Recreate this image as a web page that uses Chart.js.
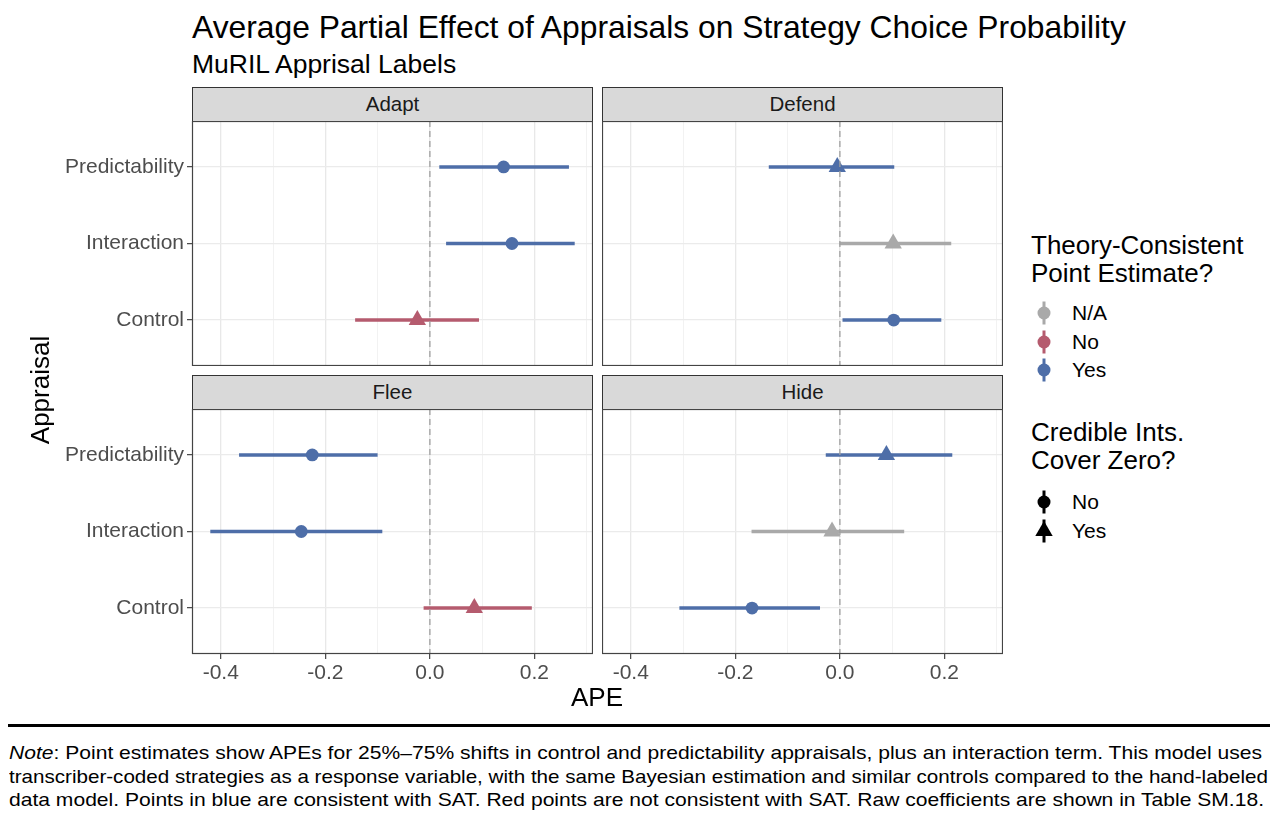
<!DOCTYPE html>
<html>
<head>
<meta charset="utf-8">
<script src="https://cdn.jsdelivr.net/npm/chart.js@4"></script>
<style>
  body { margin: 0; background: #fff; font-family: "Liberation Sans", Arial, Helvetica, sans-serif; }
  #page { position: relative; width: 1275px; height: 818px; overflow: hidden; }
  .abs { position: absolute; }
  .strip { position: absolute; background: #d9d9d9; border: 1px solid #333; box-sizing: border-box;
           font-size: 20.5px; color: #1a1a1a; text-align: center; line-height: 32px; }
  .panel { position: absolute; }
  .lg-title { position: absolute; left: 1031px; font-size: 26px; color: #000; line-height: 28px; }
  .lg-item { position: absolute; left: 1030px; height: 28px; display: flex; align-items: center; font-size: 21px; }
  .lg-item svg { width: 28px; height: 28px; margin-right: 14px; }
  .note { position: absolute; left: 9px; font-size: 18.5px; line-height: 23.5px; white-space: nowrap; transform-origin: 0 0; }
</style>
</head>
<body>
<div id="page">
  <div class="abs" style="left:192px; top:10px; font-size:31.8px; line-height:34px;">Average Partial Effect of Appraisals on Strategy Choice Probability</div>
  <div class="abs" style="left:192px; top:49px; font-size:26.5px; line-height:30px;">MuRIL Apprisal Labels</div>

  <div class="strip" style="left:192px; top:87px; width:401px; height:35px;">Adapt</div>
  <div class="strip" style="left:602px; top:87px; width:401px; height:35px;">Defend</div>
  <div class="strip" style="left:192px; top:375px; width:401px; height:35px;">Flee</div>
  <div class="strip" style="left:602px; top:375px; width:401px; height:35px;">Hide</div>

  <div class="panel" style="left:0px; top:121px; width:593px; height:245px;"><canvas id="c0"></canvas></div>
  <div class="panel" style="left:602px; top:121px; width:401px; height:245px;"><canvas id="c1"></canvas></div>
  <div class="panel" style="left:0px; top:409px; width:593px; height:280px;"><canvas id="c2"></canvas></div>
  <div class="panel" style="left:602px; top:409px; width:401px; height:280px;"><canvas id="c3"></canvas></div>

  <div class="abs" style="left:-20px; top:375px; width:120px; text-align:center; font-size:26px; line-height:30px; transform:rotate(-90deg);">Appraisal</div>
  <div class="abs" style="left:547px; top:682px; width:100px; text-align:center; font-size:26px; line-height:30px;">APE</div>

  <div class="lg-title" style="top:231px;">Theory-Consistent<br>Point Estimate?</div>
  <div id="legend1"></div>
  <div class="lg-title" style="top:418px;">Credible Ints.<br>Cover Zero?</div>
  <div id="legend2"></div>

  <div class="abs" style="left:8px; top:724px; width:1262px; height:2.5px; background:#000;"></div>
  <div class="note" data-w="1253" style="top:741px;"><i>Note</i>: Point estimates show APEs for 25%&ndash;75% shifts in control and predictability appraisals, plus an interaction term. This model uses</div>
  <div class="note" data-w="1259" style="top:764.5px;">transcriber-coded strategies as a response variable, with the same Bayesian estimation and similar controls compared to the hand-labeled</div>
  <div class="note" data-w="1255" style="top:788px;">data model. Points in blue are consistent with SAT. Red points are not consistent with SAT. Raw coefficients are shown in Table SM.18.</div>
</div>

<script>
// data
const facets = ["Adapt", "Defend", "Flee", "Hide"];
const appraisals = ["Predictability", "Interaction", "Control"];

const adaptEst = [0.141, 0.157, -0.024];
const adaptLow = [0.018, 0.031, -0.143];
const adaptHigh = [0.266, 0.277, 0.094];
const adaptConsistent = ["Yes", "Yes", "No"];
const adaptCover = ["No", "No", "Yes"];

const defendEst = [-0.005, 0.102, 0.103];
const defendLow = [-0.136, -0.001, 0.005];
const defendHigh = [0.104, 0.213, 0.194];
const defendConsistent = ["Yes", "N/A", "Yes"];
const defendCover = ["Yes", "Yes", "No"];

const fleeEst = [-0.225, -0.246, 0.085];
const fleeLow = [-0.365, -0.42, -0.012];
const fleeHigh = [-0.1, -0.091, 0.195];
const fleeConsistent = ["Yes", "Yes", "No"];
const fleeCover = ["No", "No", "Yes"];

const hideEst = [0.089, -0.015, -0.168];
const hideLow = [-0.027, -0.169, -0.307];
const hideHigh = [0.215, 0.123, -0.038];
const hideConsistent = ["Yes", "N/A", "Yes"];
const hideCover = ["Yes", "Yes", "No"];

const xTickVals = [-0.4, -0.3, -0.2, -0.1, 0, 0.1, 0.2, 0.3];
const xTickLabels = ["-0.4", "", "-0.2", "", "0.0", "", "0.2", ""];

const consistentLevels = ["N/A", "No", "Yes"];
const coverLevels = ["No", "Yes"];

const colors = { "N/A": "#a9a9a9", "No": "#b55b6e", "Yes": "#4e6ea8" };
const FONT = "'Liberation Sans', Arial, Helvetica, sans-serif";

// y position of a category (ggplot puts the first level at the bottom)
const rowOf = (i) => appraisals.length - i;

const panelPlugin = {
  id: "panel",
  afterDatasetsDraw(chart) {
    const { ctx, chartArea: a, scales: { x } } = chart;
    const px = x.getPixelForValue(0);
    ctx.save();
    ctx.strokeStyle = "#a0a0a0";
    ctx.lineWidth = 1.3;
    ctx.setLineDash([6, 4]);
    ctx.beginPath();
    ctx.moveTo(px, a.top);
    ctx.lineTo(px, a.bottom);
    ctx.stroke();
    ctx.restore();
  },
  afterDraw(chart) {
    const { ctx, chartArea: a } = chart;
    ctx.save();
    ctx.strokeStyle = "#444";
    ctx.lineWidth = 1.2;
    ctx.strokeRect(a.left + 0.5, a.top + 0.5, a.right - a.left - 1, a.bottom - a.top - 1);
    ctx.restore();
  },
};

const makePanel = (id, est, low, high, consistent, cover, showY, showX) => {
  const datasets = [];
  datasets.push({
    data: est.map((v, i) => ({ x: v, y: rowOf(i) })),
    pointStyle: cover.map((c) => (c === "Yes" ? "triangle" : "circle")),
    pointRadius: cover.map((c) => (c === "Yes" ? 10 : 6.4)),
    backgroundColor: consistent.map((c) => colors[c]),
    borderWidth: 0,
    order: 1,
  });
  est.forEach((v, i) => {
    datasets.push({
      data: [
        { x: low[i], y: rowOf(i) },
        { x: high[i], y: rowOf(i) },
      ],
      showLine: true,
      borderColor: colors[consistent[i]],
      borderWidth: 3.4,
      pointRadius: 0,
      order: 2,
    });
  });

  new Chart(document.getElementById(id), {
    type: "scatter",
    data: { datasets: datasets },
    options: {
      responsive: true,
      maintainAspectRatio: false,
      animation: false,
      layout: { padding: 0, autoPadding: false },
      plugins: { legend: { display: false }, tooltip: { enabled: false } },
      scales: {
        x: {
          type: "linear",
          min: -0.455,
          max: 0.312,
          afterBuildTicks: (axis) => {
            axis.ticks = xTickVals.map((v) => ({ value: v }));
          },
          afterFit: (axis) => {
            axis.height = showX ? 35 : 0;
            axis.paddingLeft = 0;
            axis.paddingRight = 0;
          },
          border: { display: false },
          grid: {
            color: (ctx) => (ctx.index % 2 === 0 ? "#e8e8e8" : "#f0f0f0"),
            lineWidth: (ctx) => (ctx.index % 2 === 0 ? 1.3 : 0.9),
            drawTicks: showX,
            tickLength: 5,
            tickColor: (ctx) => (ctx.index % 2 === 0 ? "#444" : "rgba(0,0,0,0)"),
            tickWidth: 1.2,
          },
          ticks: {
            display: showX,
            autoSkip: false,
            maxRotation: 0,
            padding: 2,
            color: "#4d4d4d",
            font: { family: FONT, size: 21 },
            callback: (value, index) => xTickLabels[index],
          },
        },
        y: {
          type: "linear",
          min: 0.4,
          max: 3.6,
          afterBuildTicks: (axis) => {
            axis.ticks = appraisals.map((a, i) => ({ value: rowOf(i) }));
          },
          afterFit: (axis) => {
            axis.width = showY ? 192 : 0;
            axis.paddingTop = 0;
            axis.paddingBottom = 0;
          },
          border: { display: false },
          grid: {
            color: "#ebebeb",
            lineWidth: 1.3,
            drawTicks: showY,
            tickLength: 5,
            tickColor: "#444",
            tickWidth: 1.2,
          },
          ticks: {
            display: showY,
            padding: 3,
            color: "#4d4d4d",
            font: { family: FONT, size: 21 },
            callback: (value) => appraisals[appraisals.length - value],
          },
        },
      },
    },
    plugins: [panelPlugin],
  });
};

makePanel("c0", adaptEst, adaptLow, adaptHigh, adaptConsistent, adaptCover, true, false);
makePanel("c1", defendEst, defendLow, defendHigh, defendConsistent, defendCover, false, false);
makePanel("c2", fleeEst, fleeLow, fleeHigh, fleeConsistent, fleeCover, true, true);
makePanel("c3", hideEst, hideLow, hideHigh, hideConsistent, hideCover, false, true);

// legend keys (pointrange glyphs)
const keySvg = (color, shape) => {
  const mark = shape === "triangle"
    ? `<polygon points="14,4 22.7,19 5.3,19" fill="${color}"/>`
    : `<circle cx="14" cy="14" r="6.5" fill="${color}"/>`;
  return `<svg viewBox="0 0 28 28"><line x1="14" y1="2.5" x2="14" y2="25.5" stroke="${color}" stroke-width="3"/>${mark}</svg>`;
};

const legend1 = document.getElementById("legend1");
consistentLevels.forEach((lv, i) => {
  const d = document.createElement("div");
  d.className = "lg-item";
  d.style.top = 299 + i * 28.5 + "px";
  d.innerHTML = keySvg(colors[lv], "circle") + "<span>" + lv + "</span>";
  legend1.appendChild(d);
});

const legend2 = document.getElementById("legend2");
coverLevels.forEach((lv, i) => {
  const d = document.createElement("div");
  d.className = "lg-item";
  d.style.top = 488 + i * 28.5 + "px";
  d.innerHTML = keySvg("#000", lv === "Yes" ? "triangle" : "circle") + "<span>" + lv + "</span>";
  legend2.appendChild(d);
});

// stretch each note line to the width it has in the original
document.querySelectorAll(".note").forEach((el) => {
  const w = el.getBoundingClientRect().width;
  el.style.transform = "scaleX(" + el.dataset.w / w + ")";
});
</script>
</body>
</html>
